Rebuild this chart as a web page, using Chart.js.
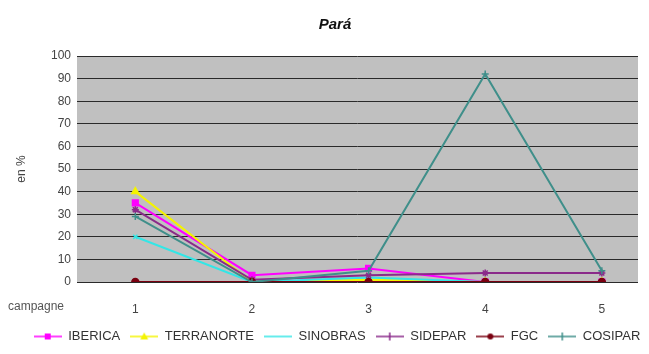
<!DOCTYPE html>
<html lang="fr">
<head>
<meta charset="UTF-8">
<title>Pará</title>
<style>
  html, body { margin: 0; padding: 0; background: #fff; }
  #wrap { width: 649px; height: 354px; }
</style>
</head>
<body>
<div id="wrap"><canvas id="paraChart" width="649" height="354"></canvas></div>

<script src="https://cdn.jsdelivr.net/npm/chart.js"></script>
<script>
// campagnes on the x axis
const campagnes = [1, 2, 3, 4, 5];
const yTicks = [0, 10, 20, 30, 40, 50, 60, 70, 80, 90, 100];

// values in %
const iberica    = [35, 3, 6, 0, 0];
const terranorte = [40, 0, 1, 0, 0];
const sinobras   = [20, 0, 2, 0, 0];
const sidepar    = [32, 1, 3, 4, 4];
const fgc        = [0, 0, 0, 0, 0];
const cosipar    = [29, 0, 5, 92, 5];

const seriesNames = ['IBERICA', 'TERRANORTE', 'SINOBRAS', 'SIDEPAR', 'FGC', 'COSIPAR'];
const seriesValues = [iberica, terranorte, sinobras, sidepar, fgc, cosipar];
const colors = ['#ff00ff', '#f4f400', '#33e6e6', '#8a2a8a', '#7a0010', '#3f8f8a'];
const markers = ['rect', 'triangle', 'crossRot', 'star', 'circle', 'cross'];
const markerSizes = [4, 4, 3, 3.5, 3.5, 3.5];

// small legend swatch: line with marker in the middle
function legendSwatch(color, marker) {
  const c = document.createElement('canvas');
  c.width = 28; c.height = 10;
  const g = c.getContext('2d');
  g.strokeStyle = color; g.fillStyle = color; g.lineWidth = 1.5;
  g.beginPath(); g.moveTo(0, 5); g.lineTo(28, 5); g.stroke();
  if (marker === 'rect') g.fillRect(11, 2, 6, 6);
  else if (marker === 'circle') { g.beginPath(); g.arc(14, 5, 3, 0, Math.PI * 2); g.fill(); }
  else if (marker === 'triangle') { g.beginPath(); g.moveTo(14, 1); g.lineTo(18, 8); g.lineTo(10, 8); g.fill(); }
  else if (marker === 'star' || marker === 'cross') {
    g.beginPath(); g.moveTo(14, 1); g.lineTo(14, 9); g.stroke();
  }
  return c;
}

const datasets = seriesNames.map((name, i) => ({
  label: name,
  data: campagnes.map((x, j) => ({ x: x, y: seriesValues[i][j] })),
  borderColor: colors[i],
  backgroundColor: colors[i],
  borderWidth: 2,
  pointStyle: markers[i],
  pointRadius: markerSizes[i],
  pointBorderWidth: 1.5,
  order: seriesNames.length - i, // later series drawn on top, like Excel
  tension: 0
}));

const plotBackground = {
  id: 'plotBackground',
  beforeLayout(chart) {
    // fixed legend height so the plot keeps its place
    const lg = chart.legend;
    if (lg && !lg._fixed) {
      const fit = lg.fit;
      lg.fit = function () { fit.call(this); this.height = 32; };
      lg._fixed = true;
    }
  },
  afterLayout(chart) {
    // legend and title sit a bit right of centre in the original
    if (chart.legend) { chart.legend.left += 18; chart.legend.right += 18; }
    if (chart.titleBlock) { chart.titleBlock.left += 16; chart.titleBlock.right += 16; }
  },
  beforeDraw(chart) {
    const { ctx, chartArea: a } = chart;
    ctx.save();
    ctx.fillStyle = '#c0c0c0';
    ctx.fillRect(a.left, a.top, a.right - a.left, a.bottom - a.top);
    ctx.restore();
  },
  afterDraw(chart) {
    const ctx = chart.ctx;
    ctx.save();
    ctx.font = '12px "Liberation Sans", Arial, sans-serif';
    ctx.fillStyle = '#555';
    ctx.textBaseline = 'middle';
    ctx.fillText('campagne', 8, chart.chartArea.bottom + 25);
    ctx.restore();
  }
};

new Chart(document.getElementById('paraChart'), {
  type: 'line',
  data: { datasets: datasets },
  plugins: [plotBackground],
  options: {
    responsive: false,
    animation: false,
    layout: { padding: { top: 4, right: 11, bottom: 2, left: 0 } },
    scales: {
      x: {
        type: 'linear',
        min: 0.5,
        max: 5.31,
        afterBuildTicks: s => { s.ticks = campagnes.map(v => ({ value: v })); },
        afterFit: s => { s.height = 38; },
        grid: { display: false },
        border: { display: false },
        ticks: {
          color: '#444',
          padding: 12,
          font: { family: '"Liberation Sans", Arial, sans-serif', size: 12 }
        }
      },
      y: {
        min: 0,
        max: 100,
        afterBuildTicks: s => { s.ticks = yTicks.map(v => ({ value: v })); },
        afterFit: s => { s.width = 77; },
        grid: { color: '#2a2a2a', lineWidth: 1, drawTicks: false },
        border: { display: false },
        title: {
          display: true,
          text: 'en %',
          color: '#444',
          padding: { top: 14, bottom: 0 },
          font: { family: '"Liberation Sans", Arial, sans-serif', size: 12 }
        },
        ticks: {
          color: '#444',
          padding: 6,
          font: { family: '"Liberation Sans", Arial, sans-serif', size: 12 }
        }
      }
    },
    plugins: {
      title: {
        display: true,
        text: 'Pará',
        color: '#111',
        padding: { top: 12, bottom: 22 },
        font: { family: '"Liberation Sans", Arial, sans-serif', size: 15, weight: 'bold', style: 'italic' }
      },
      legend: {
        position: 'bottom',
        labels: {
          usePointStyle: true,
          pointStyleWidth: 28,
          padding: 10,
          color: '#333',
          font: { family: '"Liberation Sans", Arial, sans-serif', size: 13 },
          generateLabels: chart => chart.data.datasets.map((d, i) => ({
            text: d.label,
            fontColor: '#333',
            pointStyle: legendSwatch(colors[i], markers[i]),
            datasetIndex: i,
            hidden: false,
            lineWidth: 0
          }))
        }
      },
      tooltip: { enabled: false }
    }
  }
});
</script>
</body>
</html>
